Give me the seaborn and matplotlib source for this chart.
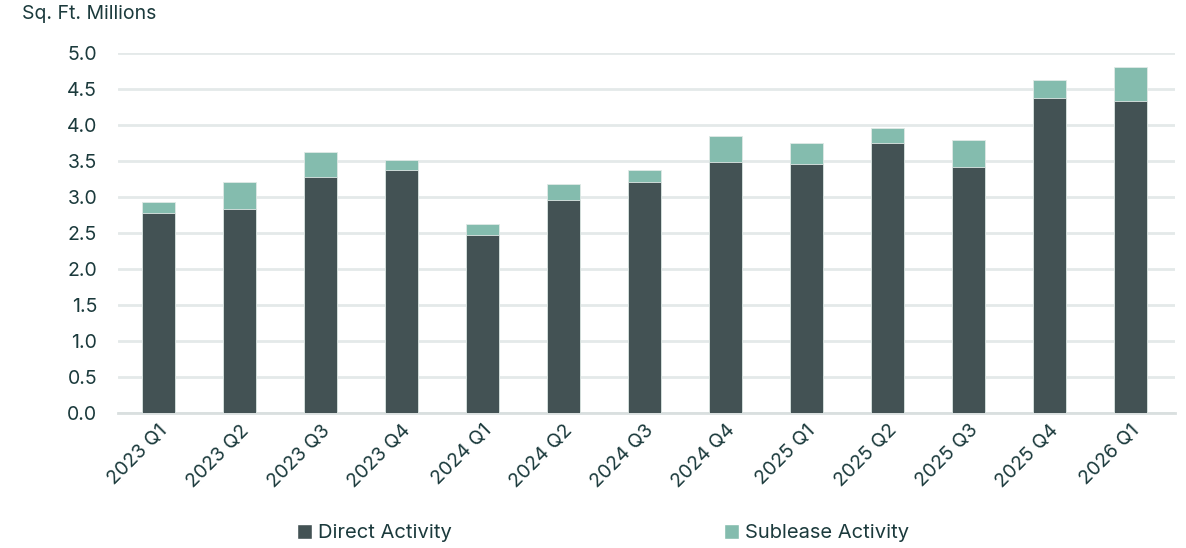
import numpy as np
import pandas as pd
import matplotlib
matplotlib.use('Agg')
import matplotlib.pyplot as plt
import seaborn as sns
from matplotlib.patches import Patch

# Data (millions of sq. ft.)
quarters = ['2023 Q1', '2023 Q2', '2023 Q3', '2023 Q4', '2024 Q1', '2024 Q2', '2024 Q3',
            '2024 Q4', '2025 Q1', '2025 Q2', '2025 Q3', '2025 Q4', '2026 Q1']
direct = [2.78, 2.84, 3.28, 3.38, 2.47, 2.96, 3.21, 3.49, 3.46, 3.75, 3.41, 4.38, 4.34]
sublease = [0.15, 0.37, 0.35, 0.13, 0.16, 0.22, 0.17, 0.36, 0.29, 0.21, 0.38, 0.25, 0.46]

df = pd.DataFrame({'Quarter': quarters, 'Direct': direct, 'Sublease': sublease})
df['Total'] = df['Direct'] + df['Sublease']

c_direct = '#435254'
c_sub = '#84bcae'
c_text = '#1b3a3c'
c_grid = '#e4e9e9'

sns.set_theme(style='white')
plt.rcParams['font.family'] = ['Inter', 'DejaVu Sans']

fig = plt.figure(figsize=(11.86, 5.48), dpi=100)
ax = fig.add_axes([118 / 1186, 1 - 413 / 548, (1175 - 118) / 1186, (413 - 53) / 548])

sns.barplot(data=df, x='Quarter', y='Total', color=c_sub, width=0.41,
            edgecolor='#dfe9e6', linewidth=0.6, saturation=1, ax=ax, zorder=3)
sns.barplot(data=df, x='Quarter', y='Direct', color=c_direct, width=0.41,
            edgecolor='#dfe9e6', linewidth=0.6, saturation=1, ax=ax, zorder=4)

ax.set_ylim(0, 5.0)
ax.set_xlim(-0.5, 12.55)
ax.set_yticks(np.arange(0, 5.01, 0.5))
ax.set_yticklabels([f'{v:.1f}' for v in np.arange(0, 5.01, 0.5)])
ax.set_xlabel('')
ax.set_ylabel('')
ax.yaxis.grid(True, color=c_grid, linewidth=2, zorder=0)
ax.set_axisbelow(True)
for s in ['top', 'right', 'left']:
    ax.spines[s].set_visible(False)
ax.spines['bottom'].set_color('#d9dfdf')
ax.spines['bottom'].set_linewidth(2)
ax.tick_params(axis='y', length=0, pad=15, labelsize=14, labelcolor=c_text)
ax.tick_params(axis='x', length=0, pad=6, labelsize=14, labelcolor=c_text)
plt.setp(ax.get_xticklabels(), rotation=45, ha='right', rotation_mode='anchor')

fig.text(22 / 1186, 1 - 14 / 548, 'Sq. Ft. Millions', fontsize=14, color=c_text,
         ha='left', va='center')

handles = [Patch(facecolor=c_direct, label='Direct Activity'),
           Patch(facecolor=c_sub, label='Sublease Activity')]
leg = fig.legend(handles=handles, loc='center', bbox_to_anchor=(603 / 1186, 1 - 533 / 548),
                 ncol=2, frameon=False, fontsize=14.5, columnspacing=13.5,
                 handlelength=0.75, handleheight=0.75, handletextpad=0.3)
for t in leg.get_texts():
    t.set_color(c_text)

fig.savefig('out.png', dpi=100)
